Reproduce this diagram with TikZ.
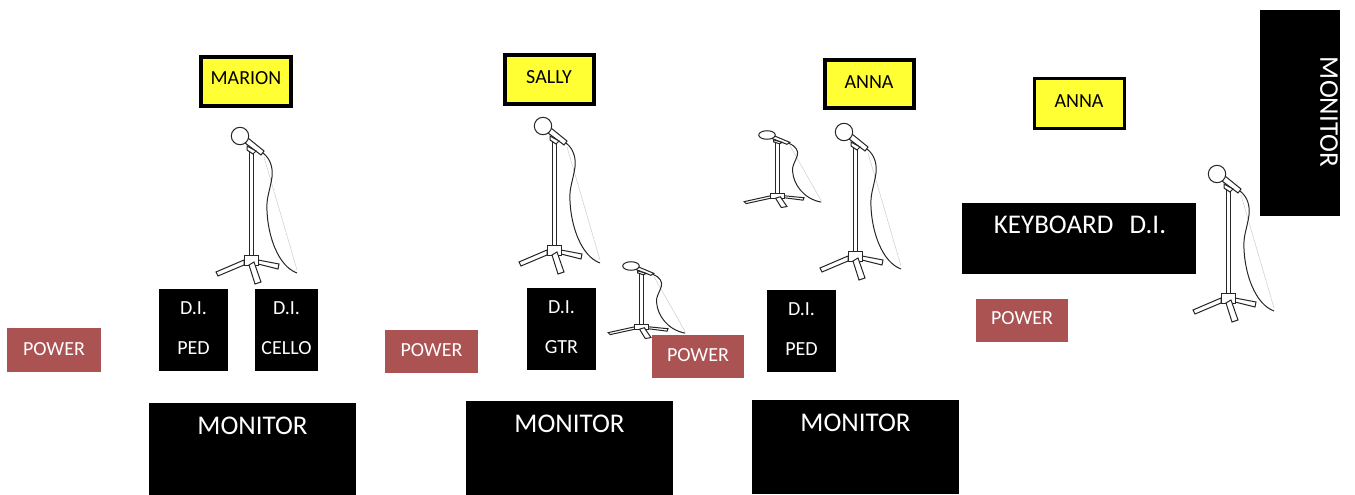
\documentclass[tikz,border=0pt]{standalone}
\usepackage{fontspec}
\setmainfont{Carlito}
\usetikzlibrary{calc}
\definecolor{pw}{HTML}{AB5252}
\definecolor{yl}{HTML}{FFFF33}
\tikzset{x=1pt,y=-1pt,
 blk/.style={fill=black,draw=none,inner sep=0,outer sep=0,text=white},
 pwr/.style={fill=pw,draw=none,inner sep=0,text=white,font=\fontsize{20}{20}\selectfont},
 nm/.style={fill=yl,draw=black,line width=4pt,inner sep=0,text=black,font=\fontsize{20}{20}\selectfont},
 nmthin/.style={nm,line width=3pt},
 lab/.style={inner sep=0,text=white,font=\fontsize{#1}{#1}\selectfont},
 lab/.default=20,
 micline/.style={line width=1pt,draw=black!85},
 mic/.pic={
  \draw[black!20,line width=0.5pt] (24,21) -- (57,134);
  \draw[micline,fill=white] (9,16) rectangle (13,119);
  \draw[micline,fill=white] (8,2) -- (24,15) -- (21,19) -- (5,7) -- cycle;
  \draw[micline,fill=white] (7,10) -- (16,15) -- (13,18) -- (7,14) -- cycle;
  \draw[micline,fill=white] (4,124) -- (-24,136) -- (-22,140) -- (4,129) -- cycle;
  \draw[micline,fill=white] (18,124) -- (39,128) -- (38,133) -- (18,128) -- cycle;
  \draw[micline,fill=white] (4,119) rectangle (18,129);
  \draw[micline,fill=white] (9,129) -- (15,148) -- (21,146) -- (14,126) -- cycle;
  \draw[micline,fill=white] (0,0) circle[radius=8.7];
  \draw[micline] (23,17) .. controls (31,23) and (33,33) .. (32,41)
     .. controls (30,55) and (26,62) .. (27,75)
     .. controls (28,100) and (38,130) .. (57,137);
 }}
\newcommand{\bx}[7]{\node[#1,minimum width=#4-#2,minimum height=#5-#3] (#6) at ({(#2+#4)/2},{(#3+#5)/2}) {#7};}
\newcommand{\up}[2]{\raisebox{#1}{#2}}
\begin{document}
\begin{tikzpicture}
\useasboundingbox (0,0) rectangle (1355,495);
\bx{nm}{201}{57}{291}{105.5}{n1}{\up{5.5pt}{MARION}}
\bx{nm}{504.5}{55.5}{593.5}{103.5}{n2}{\up{4pt}{SALLY}}
\bx{nm}{824.5}{60.5}{913.5}{107.5}{n3}{\up{4pt}{ANNA}}
\bx{nmthin}{1034}{79}{1124}{128}{n4}{\up{4pt}{ANNA}}
\pic at (240,136) {mic};
\pic at (543,126) {mic};
\pic at (844,132) {mic};
\pic at (1217,174) {mic};
\pic[xscale=0.95,yscale=0.49] at (631,266) {mic};
\pic[xscale=0.95,yscale=0.49] at (767,135) {mic};
\bx{pwr}{7}{328}{101}{372}{p1}{\up{2pt}{POWER}}
\bx{pwr}{385}{330}{478}{373}{p2}{\up{3pt}{POWER}}
\bx{pwr}{652}{335}{744}{378}{p3}{\up{3pt}{POWER}}
\bx{pwr}{976}{299}{1068}{342}{p4}{\up{4pt}{POWER}}
\bx{blk}{159}{289}{228}{371}{d1}{}
\bx{blk}{255}{289}{318}{371}{d2}{}
\bx{blk}{527}{288}{596}{370}{d3}{}
\bx{blk}{767}{290}{836}{372}{d4}{}
\foreach \b/\t in {d1/PED,d2/CELLO,d3/GTR,d4/PED}{
 \node[lab] (\b a) at ($(\b.north)+(0,19)$) {D.I.};
 \node[lab] (\b b) at ($(\b.north)+(0,59)$) {\t};
}
\bx{blk}{149}{403}{356}{495}{m1}{}
\bx{blk}{466}{401}{673}{495}{m2}{}
\bx{blk}{752}{400}{959}{494}{m3}{}
\foreach \b in {m1,m2,m3}{
 \node[lab=27] (\b t) at ($(\b.north)+(0,23)$) {MONITOR};
}
\bx{blk}{962}{203}{1196}{274}{k}{}
\node[lab=27] (kt) at (1080,225) {KEYBOARD\hspace{0.6em}D.I.};
\bx{blk}{1260}{10}{1340}{216}{m4}{}
\node[lab=27,rotate=-90] (m4t) at (1329,112) {MONITOR};
\end{tikzpicture}
\end{document}
